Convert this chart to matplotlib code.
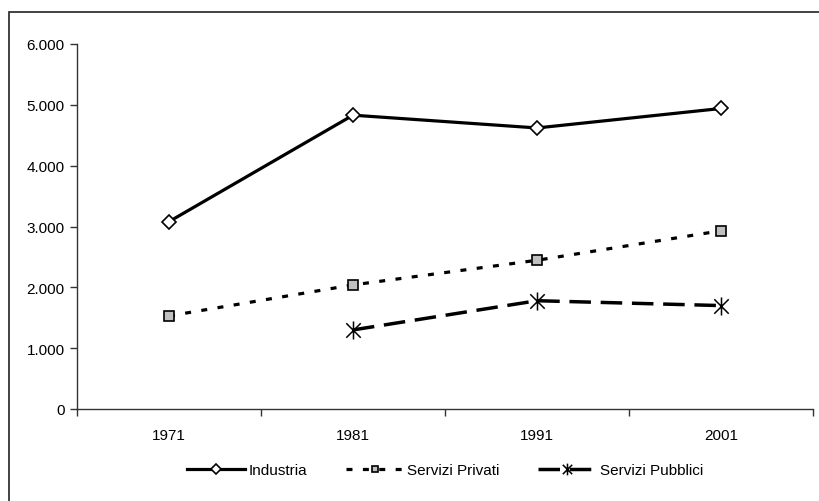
import matplotlib
matplotlib.use("Agg")
import matplotlib.pyplot as plt
from matplotlib.path import Path
from matplotlib.patches import Rectangle
import numpy as np

years = ["1971", "1981", "1991", "2001"]
industria = [3080, 4830, 4620, 4940]
servizi_privati = [1530, 2040, 2445, 2930]
servizi_pubblici = [np.nan, 1300, 1780, 1700]
series_names = ["Industria", "Servizi Privati", "Servizi Pubblici"]
yticks = [0, 1000, 2000, 3000, 4000, 5000, 6000]

plt.rcParams['font.family'] = ['Liberation Sans', 'DejaVu Sans']
plt.rcParams['lines.scale_dashes'] = False

W, H = 819, 502
fig = plt.figure(figsize=(W / 100, H / 100), dpi=100)
ax = fig.add_axes([77 / W, (H - 410) / H, (813 - 77) / W, (410 - 45) / H])

x = np.arange(len(years))

star = Path([(0, -1), (0, 1), (-0.8, -0.8), (0.8, 0.8), (-0.8, 0.8), (0.8, -0.8)],
            [Path.MOVETO, Path.LINETO, Path.MOVETO, Path.LINETO, Path.MOVETO, Path.LINETO])

ax.plot(x, industria, color='black', lw=2.3, marker='D', markersize=7.5,
        markerfacecolor='white', markeredgecolor='black', markeredgewidth=1.2,
        label=series_names[0])
ax.plot(x, servizi_privati, color='black', lw=2.3, dashes=(4.3, 7.5), marker='s',
        markersize=6.5, markerfacecolor='#c0c0c0', markeredgecolor='black',
        markeredgewidth=1.2, label=series_names[1])
ax.plot(x, servizi_pubblici, color='black', lw=2.5, dashes=(15.5, 7.0), marker=star,
        markersize=13, markerfacecolor='none', markeredgecolor='black',
        markeredgewidth=1.1, label=series_names[2])

ax.set_xlim(-0.5, len(years) - 0.5)
ax.set_ylim(0, 6000)
ax.set_yticks(yticks)
ax.set_yticklabels([f"{v:,}".replace(",", ".") for v in yticks], fontsize=11)
ax.set_xticks(x)
ax.set_xticklabels(years, fontsize=11)
ax.tick_params(axis='x', length=0, pad=14)
ax.set_xticks(np.arange(-0.5, len(years), 1.0), minor=True)
ax.tick_params(axis='x', which='minor', length=5, width=1, direction='out', color='#333333')
ax.tick_params(axis='y', length=5, width=1, direction='out', color='#333333', pad=4)
for s in ['top', 'right']:
    ax.spines[s].set_visible(False)
for s in ['left', 'bottom']:
    ax.spines[s].set_color('#333333')
    ax.spines[s].set_linewidth(1.0)

fig.legend(loc='center', bbox_to_anchor=(445 / W, 1 - 471 / H), ncol=3, frameon=False,
           fontsize=11, handlelength=3.8, columnspacing=2.5, handletextpad=0.25,
           markerscale=0.65)

fig.patches.append(Rectangle((9 / W, -0.05), 1.05, 1 - 13 / H + 0.05,
                             transform=fig.transFigure, fill=False,
                             edgecolor='#222222', linewidth=1.2))

fig.savefig("out.png", dpi=100)
